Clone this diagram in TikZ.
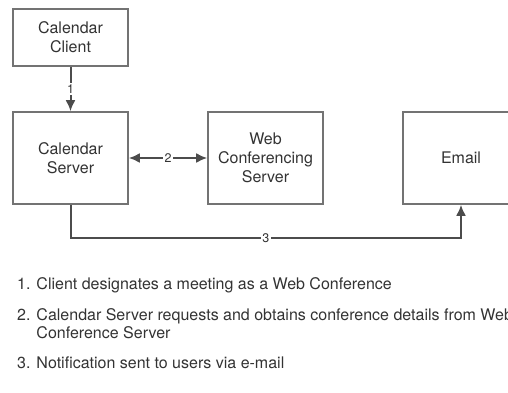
\documentclass[tikz,border=0pt]{standalone}
\usepackage{fontspec}
\setmainfont{TeX Gyre Heros}
\usetikzlibrary{arrows.meta,positioning}

\begin{document}
\begin{tikzpicture}[
    x=1pt, y=-1pt,
    box/.style={draw=black!55, line width=1.6pt, minimum width=115pt, text=black!80, align=center, font=\fontsize{16}{19}\selectfont},
    flow/.style={draw=black!70, line width=2pt},
    tip/.style={-{Latex[length=11pt,width=10pt]}},
    twotip/.style={{Latex[length=11pt,width=10pt]}-{Latex[length=11pt,width=10pt]}},
    steplabel/.style={fill=white, inner sep=1.5pt, text=black!80, font=\fontsize{12.5}{12.5}\selectfont},
    note/.style={anchor=west, text=black!80, align=left, inner sep=0pt, font=\fontsize{16}{18}\selectfont}]

\useasboundingbox (0,0) rectangle (508,392);
\clip (0,0) rectangle (508,392);

% boxes
\node[box, minimum height=57pt] (client) at (70.5,37.5) {Calendar\\Client};
\node[box, minimum height=92pt] (server) at (70.5,158) {Calendar\\Server};
\node[box, minimum height=92pt] (webconf) at (265.5,158) {Web\\Conferencing\\Server};
\node[box, minimum height=92pt, minimum width=116pt] (email) at (461,158) {Email};

% flows
\draw[flow, tip] (client) -- node[steplabel] {1} (server);
\draw[flow, twotip] (server) -- node[steplabel] {2} (webconf);
\draw[flow, tip] (server.south) -- ++(0,33) -| node[steplabel, pos=0.25] {3} (email.south);

% notes
\node[note] (note1) at (17,285) {1. Client designates a meeting as a Web Conference};
\node[note] (note2) at (17,324) {2. Calendar Server requests and obtains conference details from Web\\\hphantom{2. }Conference Server};
\node[note] (note3) at (17,363) {3. Notification sent to users via e-mail};

\end{tikzpicture}
\end{document}
